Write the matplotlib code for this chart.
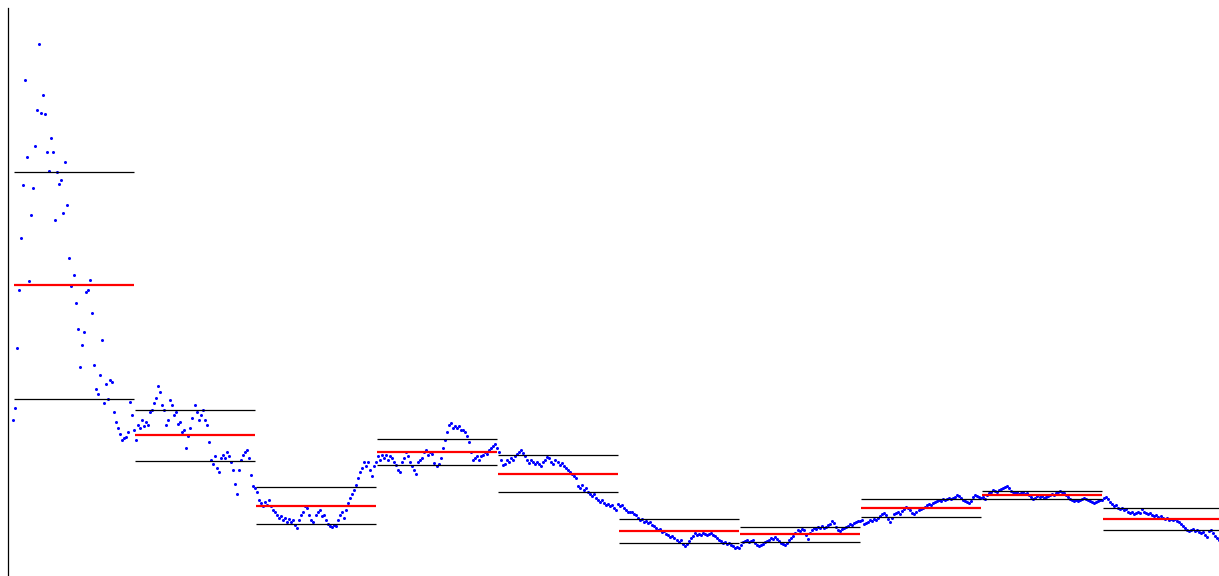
import numpy as np
import matplotlib
matplotlib.use("Agg")
import matplotlib.pyplot as plt

# readings, 60 samples per window
seg01 = [180, 192, 252, 310, 362, 415, 520, 443, 319, 385,
         412, 454, 490, 556, 487, 505, 486, 448, 429, 462,
         448, 380, 428, 416, 420, 387, 438, 395, 342, 314,
         325, 297, 271, 233, 255, 268, 308, 310, 320, 287,
         235, 211, 206, 225, 260, 197, 216, 201, 220, 218,
         188, 178, 172, 166, 160, 162, 163, 168, 198, 185]
seg02 = [170, 160, 175, 172, 180, 174, 178, 175, 188, 190,
         197, 202, 214, 208, 195, 190, 175, 180, 200, 195,
         185, 188, 176, 178, 168, 170, 152, 164, 172, 182,
         195, 188, 180, 185, 190, 180, 175, 158, 140, 136,
         144, 132, 128, 142, 145, 142, 148, 144, 138, 130,
         116, 106, 130, 140, 145, 148, 150, 142, 125, 114]
seg03 = [112, 108, 100, 97, 94, 98, 95, 100, 94, 90,
         88, 85, 82, 84, 80, 82, 78, 81, 78, 80,
         75, 72, 80, 85, 88, 94, 92, 85, 80, 78,
         85, 88, 90, 84, 85, 80, 76, 74, 73, 75,
         74, 80, 85, 88, 82, 90, 97, 102, 106, 110,
         115, 122, 128, 132, 138, 134, 138, 130, 124, 134]
seg04 = [138, 144, 140, 145, 142, 145, 140, 144, 142, 138,
         135, 130, 128, 138, 142, 148, 144, 138, 134, 130,
         126, 138, 140, 142, 148, 150, 145, 148, 146, 137,
         134, 136, 142, 152, 160, 168, 175, 177, 172, 174,
         172, 174, 170, 170, 168, 164, 158, 148, 140, 142,
         144, 140, 144, 145, 148, 146, 150, 152, 154, 156]
seg05 = [152, 148, 140, 135, 136, 140, 138, 142, 140, 144,
         146, 148, 150, 147, 144, 140, 137, 140, 138, 136,
         138, 136, 134, 138, 140, 143, 142, 138, 136, 140,
         138, 135, 137, 134, 132, 130, 128, 126, 124, 122,
         114, 112, 115, 110, 112, 108, 106, 104, 106, 102,
         100, 98, 100, 97, 95, 96, 94, 95, 92, 90]
seg06 = [96, 94, 95, 92, 90, 88, 88, 88, 86, 85,
         82, 80, 81, 78, 79, 77, 78, 75, 74, 72,
         70, 71, 68, 69, 66, 65, 63, 64, 62, 60,
         58, 60, 56, 54, 56, 59, 62, 64, 67, 65,
         66, 65, 67, 66, 65, 66, 67, 65, 64, 62,
         60, 59, 57, 58, 56, 57, 55, 54, 52, 53]
seg07 = [52, 55, 58, 59, 60, 58, 59, 60, 57, 55,
         54, 55, 56, 58, 59, 60, 62, 61, 63, 61,
         59, 57, 56, 55, 57, 60, 62, 64, 67, 70,
         69, 71, 70, 65, 61, 67, 70, 72, 71, 73,
         72, 74, 72, 73, 75, 76, 79, 77, 73, 70,
         69, 71, 72, 73, 74, 76, 75, 77, 78, 79]
seg08 = [79, 80, 76, 77, 78, 80, 79, 81, 80, 82,
         84, 86, 87, 85, 81, 78, 82, 86, 87, 88,
         86, 89, 91, 93, 92, 90, 87, 86, 88, 90,
         91, 92, 93, 95, 96, 95, 97, 98, 99, 100,
         99, 101, 100, 101, 102, 101, 102, 103, 105, 104,
         102, 100, 99, 98, 97, 99, 103, 105, 104, 103]
seg09 = [102, 103, 101, 105, 107, 108, 110, 109, 108, 110,
         111, 112, 113, 114, 112, 109, 108, 107, 108, 106,
         107, 108, 106, 107, 105, 103, 101, 102, 104, 103,
         104, 102, 103, 104, 105, 106, 105, 107, 108, 109,
         108, 107, 105, 103, 101, 100, 99, 100, 99, 100,
         101, 102, 101, 100, 99, 98, 97, 98, 99, 100]
seg10 = [100, 102, 103, 101, 98, 96, 94, 95, 92, 91,
         92, 90, 91, 88, 87, 88, 86, 87, 88, 87,
         91, 88, 87, 86, 87, 85, 84, 85, 83, 84,
         82, 81, 82, 80, 81, 80, 81, 79, 78, 76,
         74, 72, 70, 69, 70, 71, 69, 70, 68, 67,
         68, 65, 63, 69, 70, 67, 64, 62, 60, 59]

segments = [seg01, seg02, seg03, seg04, seg05, seg06, seg07, seg08, seg09, seg10]
n = len(seg01)

values = np.concatenate([np.array(s, dtype=float) for s in segments])
idx = np.arange(len(values))

fig = plt.figure(figsize=(12.19, 5.76), dpi=100)
ax = fig.add_axes([8 / 1219, 0.0, 1 - 8 / 1219, 1 - 8 / 576])

ax.plot(idx, values, 'o', color='blue', markersize=2.2, markeredgewidth=0)

for k, s in enumerate(segments):
    s = np.array(s, dtype=float)
    m = s.mean()
    sd = s.std()
    x0 = k * n + 0.4
    x1 = k * n + n - 0.2
    ax.hlines([m + sd, m - sd], x0, x1, colors='black', linewidth=0.9)
    ax.hlines(m, x0, x1, colors='red', linewidth=1.6)

ax.set_xlim(-2.48, 598.0)
ax.set_ylim(24, 592)
for side in ['top', 'right', 'bottom']:
    ax.spines[side].set_visible(False)
ax.spines['left'].set_linewidth(0.9)
ax.set_xticks([])
ax.set_yticks([])

fig.savefig("out.png", dpi=100)
